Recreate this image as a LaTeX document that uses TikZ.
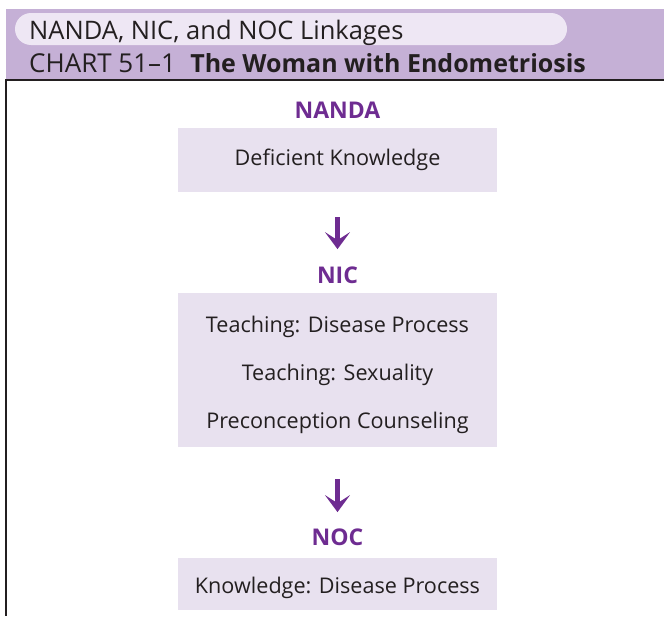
\documentclass[tikz,border=0pt]{standalone}
\usepackage{fontspec}
\setmainfont{Open Sans}
\usetikzlibrary{arrows.meta}

\definecolor{bandcolor}{HTML}{C5B0D6}
\definecolor{pillcolor}{HTML}{EEE7F4}
\definecolor{boxcolor}{HTML}{E8E1EF}
\definecolor{labelcolor}{HTML}{6E2C91}
\definecolor{inkcolor}{HTML}{231F20}

\begin{document}
\begin{tikzpicture}[x=1pt,y=-1pt]

\tikzset{ItemBox/.style   = {fill=boxcolor, minimum width=319pt, inner sep=0pt},
         ItemText/.style  = {text=inkcolor, inner sep=0pt, anchor=base,
                             font=\fontsize{21.6}{21.6}\selectfont},
         GroupLabel/.style = {text=labelcolor, inner sep=0pt, anchor=base,
                             font=\fontsize{23}{23}\selectfont\bfseries},
         FlowArrow/.style  = {draw=labelcolor, line width=4.5pt,
                             -{Stealth[length=17pt,width=25pt,inset=8pt]}}}

  \useasboundingbox (0,0) rectangle (664,616);

%%% header band with the title pill
  \fill[bandcolor] (6,9) rectangle (664,80);
  \fill[pillcolor, rounded corners=16pt] (15,13) rectangle (567,45);
  \node[anchor=base west, inner sep=0pt, text=inkcolor,
        font=\fontsize{25.5}{25.5}\selectfont] (Title) at (29,39)
        {NANDA, NIC, and NOC Linkages};
  \node[anchor=base west, inner sep=0pt, text=inkcolor,
        font=\fontsize{26}{26}\selectfont] (Chart) at (29,72)
        {CHART 51--1\hspace{0.55em}{\fontsize{25}{25}\selectfont\bfseries The Woman with Endometriosis}};
  \draw[line width=1.5pt, inkcolor] (664,80) -- (6,80) -- (6,616);

%%% NANDA
   \node[GroupLabel] (NANDA) at (337.5,118) {NANDA};
   \node[ItemBox, minimum height=64pt] (NANDAbox) at (337.5,160) {};
   \node[ItemText] (NANDAitem) at (337.5,165) {Deficient Knowledge};

%%% NIC
   \node[GroupLabel] (NIC) at (337.5,283) {NIC};
   \node[ItemBox, minimum height=154pt] (NICbox) at (337.5,370) {};
   \node[ItemText] (NICitemA) at (337.5,332) {Teaching: Disease Process};
   \node[ItemText] (NICitemB) at (337.5,380) {Teaching: Sexuality};
   \node[ItemText] (NICitemC) at (337.5,428) {Preconception Counseling};

%%% NOC
   \node[GroupLabel] (NOC) at (337.5,545) {NOC};
   \node[ItemBox, minimum height=52pt] (NOCbox) at (337.5,584) {};
   \node[ItemText] (NOCitem) at (337.5,593) {Knowledge: Disease Process};

  \draw[FlowArrow, shorten <=25pt, shorten >=17pt] (NANDAbox.south) -- (NIC.north);
  \draw[FlowArrow, shorten <=32pt, shorten >=16pt] (NICbox.south) -- (NOC.north);

\end{tikzpicture}
\end{document}
